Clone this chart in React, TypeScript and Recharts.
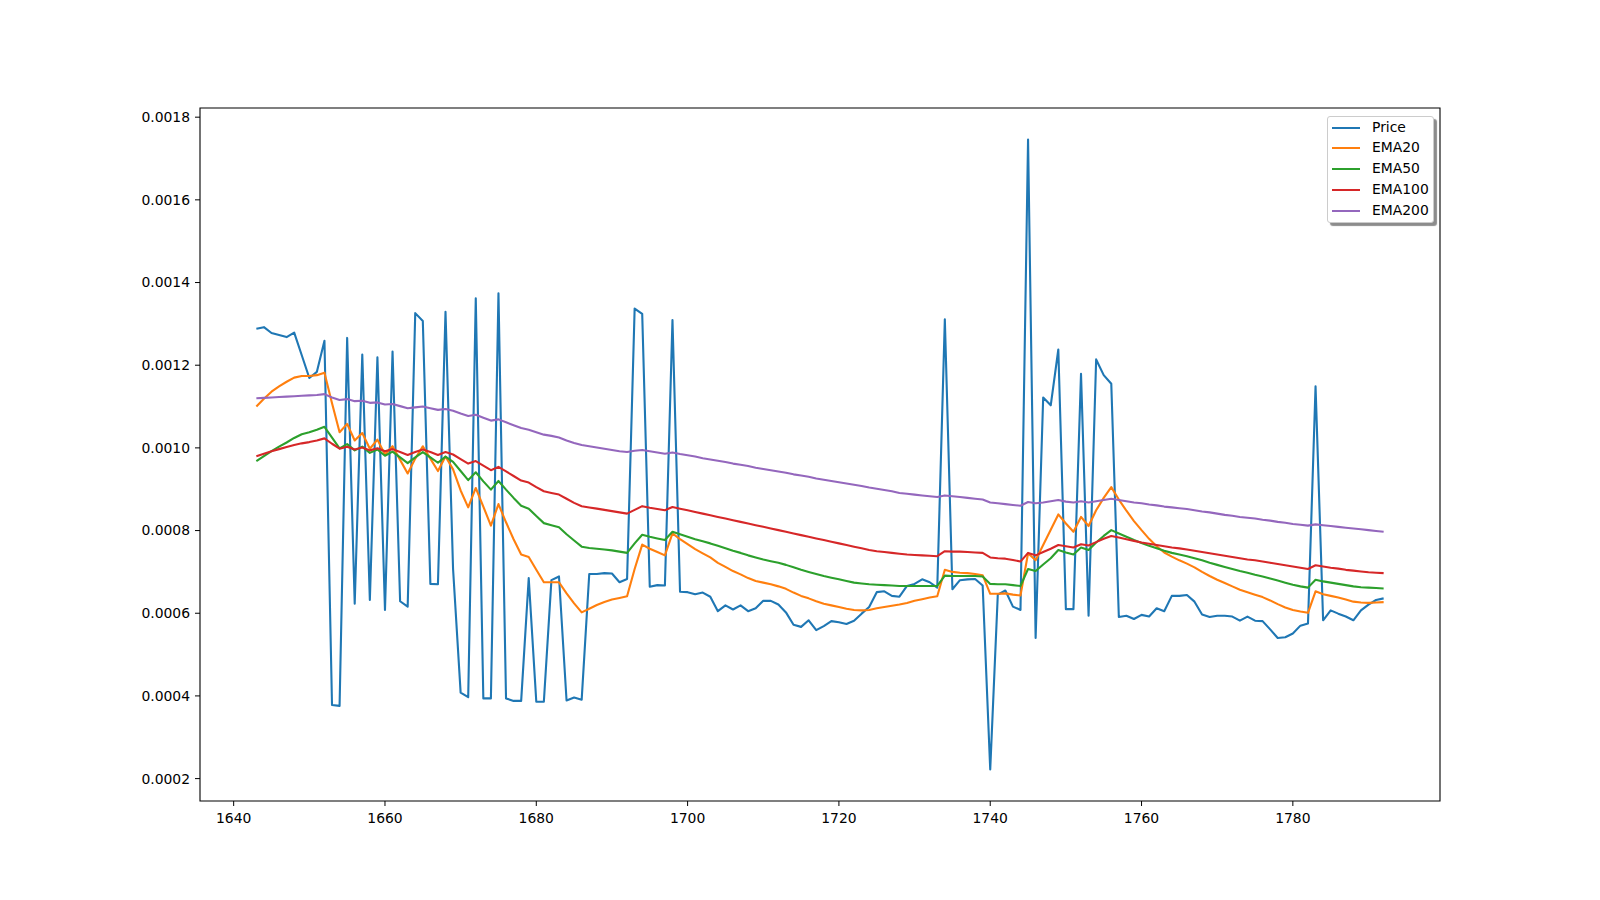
import { LineChart, Line, XAxis, YAxis, ReferenceArea } from "recharts";

// first index on the x axis, one price row per step after it
const START_DAY = 1643;

const price = [
  0.001288, 0.001292, 0.001278, 0.001273, 0.001268, 0.001279, 0.001224, 0.001169, 0.001184, 0.001259,
  0.000378, 0.000376, 0.001266, 0.000623, 0.001226, 0.000632, 0.001219, 0.000608, 0.001233, 0.000629,
  0.000616, 0.001326, 0.001307, 0.000671, 0.00067, 0.001329, 0.000707, 0.000408, 0.000397, 0.001362,
  0.000394, 0.000394, 0.001374, 0.000394, 0.000388, 0.000388, 0.000685, 0.000386, 0.000386, 0.00068,
  0.000689, 0.000389, 0.000396, 0.000391, 0.000695, 0.000695, 0.000697, 0.000696, 0.000675, 0.000683,
  0.001337, 0.001324, 0.000664, 0.000668, 0.000667, 0.001309, 0.000652, 0.000651, 0.000646, 0.00065,
  0.00064, 0.000605, 0.000619, 0.000609, 0.000619, 0.000605, 0.000612, 0.00063, 0.00063, 0.000621,
  0.000602, 0.000572, 0.000567, 0.000583, 0.000559, 0.000569, 0.000581, 0.000578, 0.000574, 0.000582,
  0.000599, 0.000615, 0.000651, 0.000653, 0.000642, 0.00064, 0.000666, 0.000671, 0.000682, 0.000675,
  0.000662, 0.001311, 0.000658, 0.00068, 0.000682, 0.000683, 0.000667, 0.000222, 0.000645, 0.000655,
  0.000616, 0.000608, 0.001746, 0.00054, 0.001122, 0.001103, 0.001238, 0.00061, 0.00061, 0.001179,
  0.000594, 0.001214, 0.001176, 0.001155, 0.000591, 0.000594, 0.000586, 0.000596, 0.000592, 0.000612,
  0.000605, 0.000642, 0.000642, 0.000644, 0.000628, 0.000597, 0.000591, 0.000594, 0.000594, 0.000592,
  0.000582, 0.000592, 0.000582, 0.000581, 0.000561, 0.00054, 0.000542, 0.000551, 0.00057, 0.000575,
  0.001149, 0.000583, 0.000607, 0.000599, 0.000592, 0.000583, 0.000607, 0.000621, 0.000632, 0.000636,
];

const ema20 = [
  0.0011, 0.001119, 0.001136, 0.001149, 0.00116, 0.00117, 0.001174, 0.001174, 0.001176, 0.001182,
  0.001108, 0.001038, 0.001058, 0.001018, 0.001036, 0.000998, 0.00102, 0.000984, 0.001004, 0.000971,
  0.000938, 0.000974, 0.001004, 0.000974, 0.000944, 0.000979, 0.000948, 0.000897, 0.000856, 0.000903,
  0.000858, 0.000812, 0.000864, 0.00082, 0.000779, 0.000742, 0.000736, 0.000705, 0.000675, 0.000675,
  0.000675, 0.000648, 0.000624, 0.000602, 0.000611, 0.00062, 0.000627, 0.000633, 0.000637, 0.000641,
  0.000707, 0.000766, 0.000756, 0.000748, 0.00074, 0.000793, 0.000779, 0.000767, 0.000755, 0.000745,
  0.000735, 0.000722, 0.000712, 0.000702, 0.000694, 0.000685, 0.000678, 0.000674, 0.00067, 0.000665,
  0.000659, 0.00065, 0.000642, 0.000636, 0.000629, 0.000623, 0.000619, 0.000615, 0.000611, 0.000608,
  0.000607, 0.000608, 0.000612, 0.000615, 0.000618, 0.000621, 0.000625, 0.00063, 0.000634, 0.000638,
  0.000641, 0.000705, 0.0007, 0.000698, 0.000697, 0.000695, 0.000692, 0.000647, 0.000647, 0.000648,
  0.000645, 0.000643, 0.000745, 0.000728, 0.000765, 0.000802, 0.000839, 0.000817, 0.000797, 0.000833,
  0.000811, 0.000849, 0.000879, 0.000905, 0.000875, 0.000848, 0.000823, 0.000801, 0.00078, 0.000762,
  0.000747, 0.000737, 0.000728, 0.00072, 0.000711, 0.0007, 0.00069, 0.000681, 0.000673, 0.000665,
  0.000657, 0.000651, 0.000645, 0.000639, 0.000631, 0.000622, 0.000614, 0.000608, 0.000604, 0.000601,
  0.000653, 0.000646, 0.000642, 0.000638, 0.000633, 0.000628, 0.000626, 0.000625, 0.000626, 0.000627,
];

const ema50 = [
  0.000968, 0.00098, 0.000992, 0.001003, 0.001013, 0.001024, 0.001033, 0.001038, 0.001044, 0.001051,
  0.001025, 0.000999, 0.001009, 0.000994, 0.001003, 0.000988, 0.000996, 0.000981, 0.000991, 0.000977,
  0.000963, 0.000977, 0.00099, 0.000977, 0.000964, 0.000979, 0.000966, 0.000944, 0.000922, 0.000941,
  0.000919, 0.000899, 0.00092, 0.000899, 0.000879, 0.00086, 0.000853, 0.000835, 0.000818, 0.000813,
  0.000808, 0.000791, 0.000776, 0.000761, 0.000758, 0.000756, 0.000754, 0.000752, 0.000749, 0.000746,
  0.000769, 0.00079, 0.000785, 0.000781, 0.000777, 0.000797, 0.000791, 0.000785, 0.000779, 0.000774,
  0.000769, 0.000763, 0.000757, 0.000751, 0.000746, 0.00074, 0.000735, 0.00073, 0.000726, 0.000722,
  0.000717, 0.000711, 0.000705, 0.0007, 0.000695, 0.00069, 0.000686, 0.000682, 0.000678, 0.000674,
  0.000672, 0.00067, 0.000669, 0.000668, 0.000667, 0.000666, 0.000666, 0.000666, 0.000666, 0.000666,
  0.000666, 0.000691, 0.00069, 0.00069, 0.00069, 0.00069, 0.000689, 0.000671, 0.00067, 0.00067,
  0.000668, 0.000666, 0.000707, 0.000702, 0.000718, 0.000733, 0.000753, 0.000747, 0.000742, 0.000759,
  0.000753, 0.000771, 0.000787, 0.000801, 0.000793, 0.000785, 0.000777, 0.00077, 0.000763, 0.000757,
  0.000751, 0.000746, 0.000742, 0.000738, 0.000733, 0.000728, 0.000722, 0.000717, 0.000712, 0.000707,
  0.000702, 0.000698, 0.000693, 0.000689, 0.000684, 0.000679, 0.000674, 0.000669, 0.000665, 0.000662,
  0.000681, 0.000677, 0.000674, 0.000671, 0.000668, 0.000665, 0.000663, 0.000662, 0.000661, 0.00066,
];

const ema100 = [
  0.00098, 0.000986, 0.000992, 0.000997, 0.001002, 0.001007, 0.001011, 0.001014, 0.001018, 0.001023,
  0.00101, 0.000998, 0.001003, 0.000996, 0.001001, 0.000994, 0.000999, 0.000992, 0.000997, 0.00099,
  0.000983, 0.00099, 0.000996, 0.00099, 0.000983, 0.00099, 0.000984, 0.000973, 0.000962, 0.000968,
  0.000957, 0.000946, 0.000954, 0.000943, 0.000932, 0.000921, 0.000916, 0.000905, 0.000895, 0.000891,
  0.000887, 0.000877, 0.000867, 0.000859, 0.000856, 0.000853, 0.00085, 0.000847, 0.000844, 0.000841,
  0.00085, 0.000859, 0.000855, 0.000852, 0.000849, 0.000857, 0.000853, 0.000849, 0.000845, 0.000841,
  0.000837, 0.000833, 0.000829, 0.000825, 0.000821, 0.000817, 0.000813, 0.000809, 0.000805, 0.000801,
  0.000797, 0.000793, 0.000789, 0.000785, 0.000781, 0.000777, 0.000773, 0.000769, 0.000765, 0.000761,
  0.000757, 0.000753, 0.00075, 0.000748, 0.000746, 0.000744, 0.000742, 0.000741, 0.00074, 0.000739,
  0.000738, 0.00075, 0.000749, 0.000749, 0.000748, 0.000747, 0.000746, 0.000735, 0.000733, 0.000732,
  0.000729, 0.000725, 0.000746, 0.00074, 0.000748, 0.000756, 0.000765, 0.000762, 0.000759, 0.000767,
  0.000764, 0.000772, 0.00078, 0.000787, 0.000783, 0.000779, 0.000775, 0.000771, 0.000768, 0.000765,
  0.000762, 0.000759, 0.000757, 0.000754, 0.000751, 0.000748, 0.000745, 0.000742, 0.000739, 0.000736,
  0.000733, 0.00073, 0.000728, 0.000725, 0.000722, 0.000719, 0.000716, 0.000713, 0.00071, 0.000707,
  0.000716, 0.000713, 0.00071, 0.000708, 0.000705, 0.000703, 0.000701, 0.000699, 0.000698, 0.000697,
];

const ema200 = [
  0.00112, 0.001121, 0.001122, 0.001123, 0.001124, 0.001125, 0.001126, 0.001127, 0.001128, 0.00113,
  0.001122, 0.001116, 0.001118, 0.001113, 0.001114, 0.001109, 0.00111, 0.001105, 0.001106, 0.001101,
  0.001096, 0.001098, 0.0011, 0.001096, 0.001092, 0.001094, 0.00109, 0.001083, 0.001077, 0.00108,
  0.001073, 0.001066, 0.001069, 0.001062, 0.001055, 0.001048, 0.001044, 0.001038, 0.001032, 0.001029,
  0.001025, 0.001018, 0.001012, 0.001007, 0.001004, 0.001001, 0.000998, 0.000995, 0.000992, 0.00099,
  0.000993, 0.000995, 0.000992, 0.000989, 0.000986, 0.000989, 0.000985, 0.000982, 0.000979, 0.000975,
  0.000972, 0.000969, 0.000966, 0.000962, 0.000959, 0.000956, 0.000952, 0.000949, 0.000946, 0.000943,
  0.00094, 0.000936, 0.000933, 0.00093, 0.000926, 0.000923, 0.00092, 0.000917, 0.000914, 0.000911,
  0.000908, 0.000904, 0.000901, 0.000898, 0.000895, 0.000891, 0.000889, 0.000887, 0.000885, 0.000883,
  0.000881, 0.000885, 0.000883, 0.000881, 0.000879, 0.000877, 0.000875, 0.000868, 0.000866, 0.000864,
  0.000862, 0.00086, 0.000869, 0.000866, 0.000868, 0.000871, 0.000874, 0.00087, 0.000868, 0.000871,
  0.000868, 0.000871, 0.000874, 0.000877, 0.000874, 0.000871, 0.000868, 0.000866, 0.000863, 0.000861,
  0.000858, 0.000856, 0.000854, 0.000852, 0.000849, 0.000846, 0.000844, 0.000841, 0.000838, 0.000836,
  0.000833, 0.000831, 0.000829, 0.000826, 0.000824, 0.000821, 0.000819, 0.000816, 0.000814, 0.000812,
  0.000815, 0.000813, 0.000811, 0.000809, 0.000807, 0.000805, 0.000803, 0.000801, 0.000799, 0.000797,
];

const X_TICKS = [1640, 1660, 1680, 1700, 1720, 1740, 1760, 1780];
const Y_TICKS = [0.0002, 0.0004, 0.0006, 0.0008, 0.001, 0.0012, 0.0014, 0.0016, 0.0018];

// matplotlib style 5% padding around the data
const X_DOMAIN = [1635.55, 1799.45];
const Y_DOMAIN = [0.0001458, 0.0018222];

const SERIES = [
  { key: "price", name: "Price", color: "#1f77b4" },
  { key: "ema20", name: "EMA20", color: "#ff7f0e" },
  { key: "ema50", name: "EMA50", color: "#2ca02c" },
  { key: "ema100", name: "EMA100", color: "#d62728" },
  { key: "ema200", name: "EMA200", color: "#9467bd" },
];

const rows = price.map((p, i) => ({
  day: START_DAY + i,
  price: p,
  ema20: ema20[i],
  ema50: ema50[i],
  ema100: ema100[i],
  ema200: ema200[i],
}));

const FONT = "'DejaVu Sans', sans-serif";
const tickStyle = { fill: "#000", fontSize: 13.9, fontFamily: FONT };

const LegendBox = () => (
  <div
    style={{
      position: "absolute",
      left: 1319,
      top: 108,
      width: 107,
      height: 107,
      boxSizing: "border-box",
      background: "#fff",
      border: "1px solid #cccccc",
      borderRadius: 3,
      boxShadow: "3px 3px 1px rgba(0,0,0,0.45)",
      fontFamily: FONT,
      fontSize: 13.9,
      color: "#000",
    }}
  >
    {SERIES.map((s, i) => (
      <div
        key={s.key}
        style={{ position: "absolute", left: 0, top: 0.5 + i * 20.9, height: 20, width: "100%" }}
      >
        <div
          style={{
            position: "absolute",
            left: 4,
            top: 9,
            width: 28,
            height: 2.1,
            background: s.color,
          }}
        />
        <span style={{ position: "absolute", left: 44, top: 1, lineHeight: "17px", whiteSpace: "nowrap" }}>
          {s.name}
        </span>
      </div>
    ))}
  </div>
);

export default function App() {
  return (
    <div style={{ position: "relative", width: 1584, height: 884 }}>
      <LineChart
        width={1584}
        height={884}
        data={rows}
        margin={{ top: 100, right: 152, bottom: 61, left: 112 }}
      >
        <XAxis
          dataKey="day"
          type="number"
          domain={X_DOMAIN}
          ticks={X_TICKS}
          interval={0}
          allowDataOverflow
          height={30}
          axisLine={false}
          stroke="#000"
          tickSize={5}
          tickMargin={7}
          tick={tickStyle}
        />
        <YAxis
          type="number"
          domain={Y_DOMAIN}
          ticks={Y_TICKS}
          interval={0}
          allowDataOverflow
          width={80}
          axisLine={false}
          stroke="#000"
          tickSize={5}
          tickMargin={5}
          tick={tickStyle}
          tickFormatter={(v: number) => v.toFixed(4)}
        />
        {SERIES.map((s) => (
          <Line
            key={s.key}
            type="linear"
            dataKey={s.key}
            name={s.name}
            stroke={s.color}
            strokeWidth={2.1}
            strokeLinejoin="round"
            dot={false}
            activeDot={false}
            isAnimationActive={false}
          />
        ))}
        <ReferenceArea
          x1={X_DOMAIN[0]}
          x2={X_DOMAIN[1]}
          y1={Y_DOMAIN[0]}
          y2={Y_DOMAIN[1]}
          fill="none"
          stroke="#000"
          strokeWidth={1.1}
          ifOverflow="visible"
        />
      </LineChart>
      <LegendBox />
    </div>
  );
}
